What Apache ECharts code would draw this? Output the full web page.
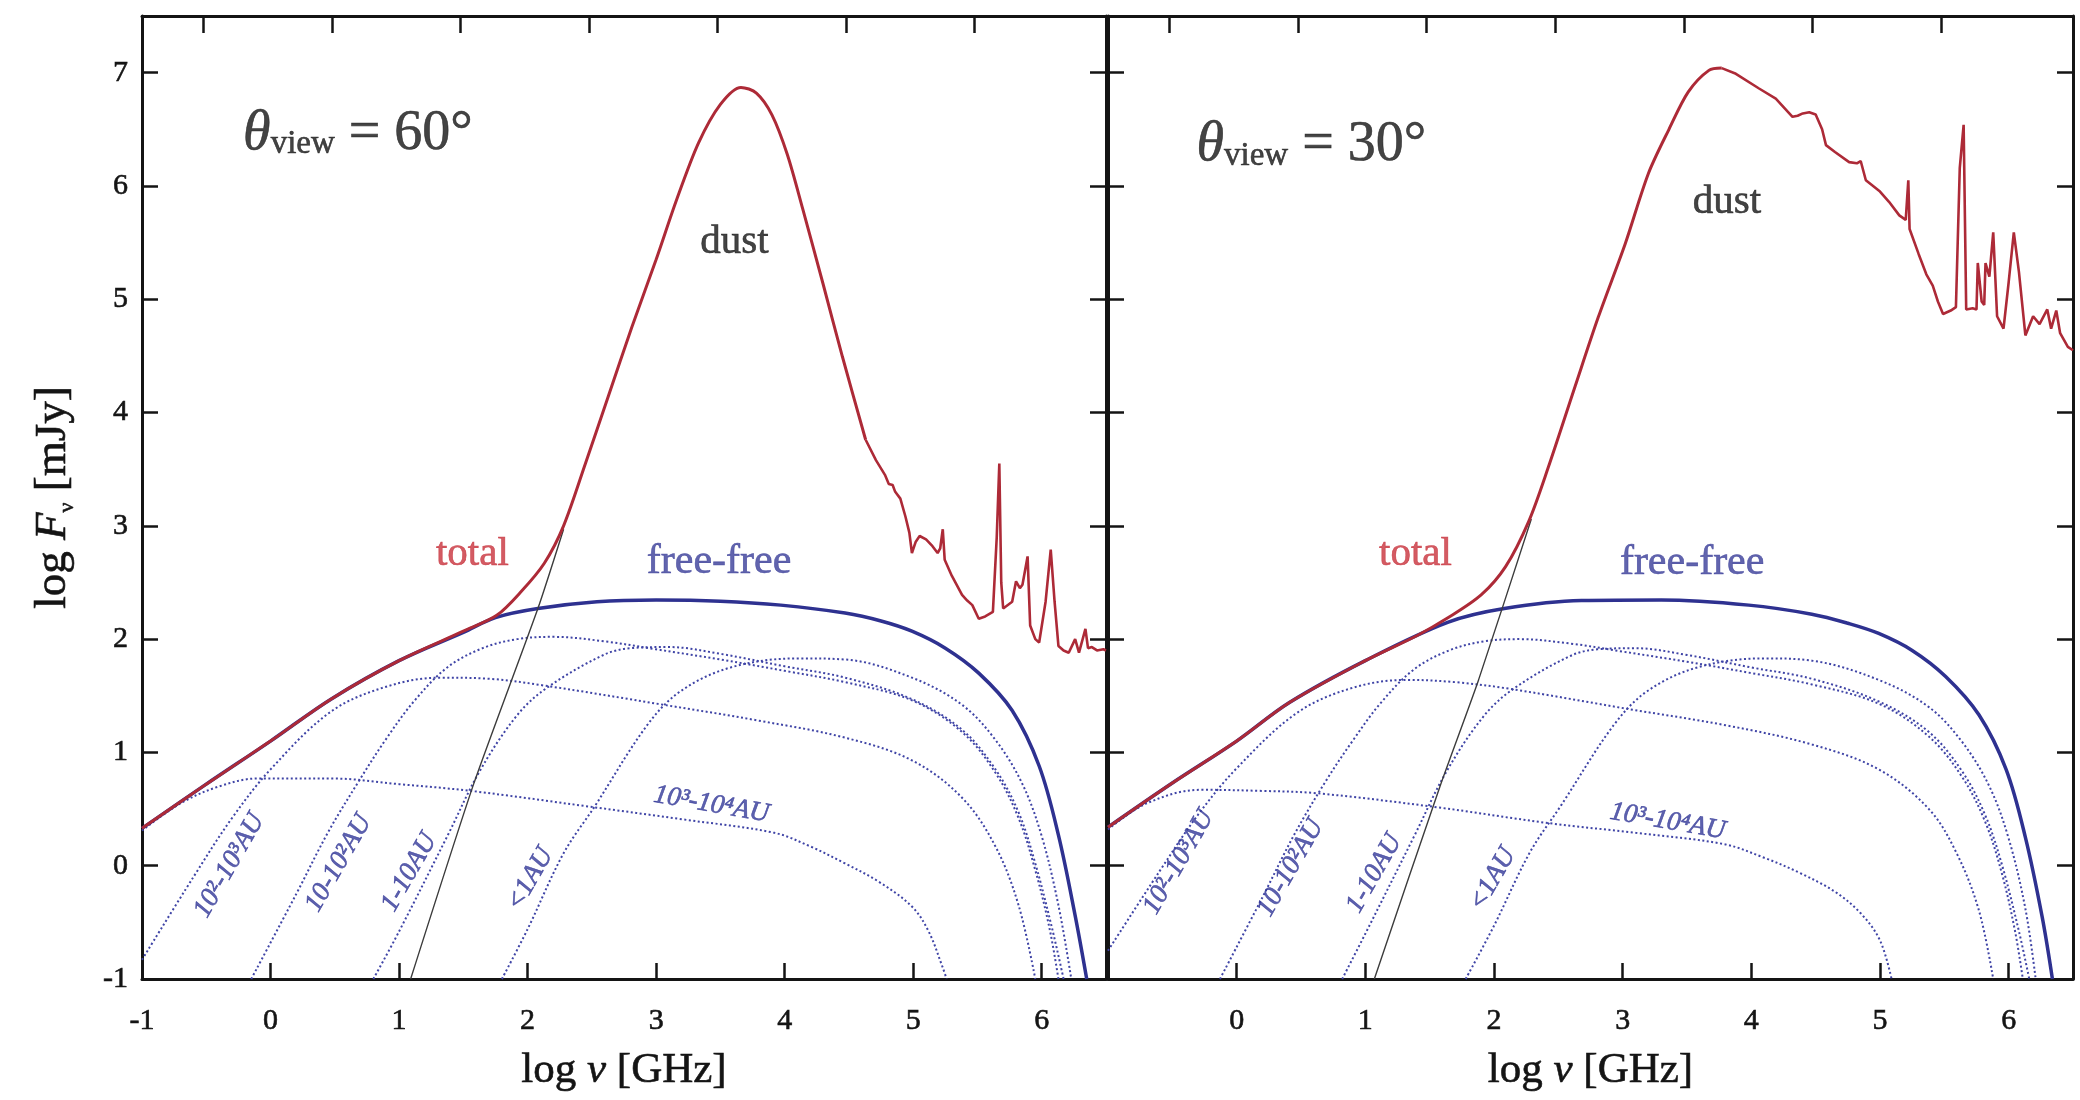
<!DOCTYPE html>
<html>
<head>
<meta charset="utf-8">
<script src="https://cdn.jsdelivr.net/npm/echarts@6/dist/echarts.min.js"></script>
<style>
  html, body { margin: 0; padding: 0; background: #ffffff; }
  #chart { width: 2080px; height: 1100px; }
</style>
</head>
<body>
<div id="chart"></div>
<script>
// ---------- axis ticks ----------
const xTicksLeft = [-1, 0, 1, 2, 3, 4, 5, 6];
const xTicksRight = [0, 1, 2, 3, 4, 5, 6];
const yTicks = [-1, 0, 1, 2, 3, 4, 5, 6, 7];
// top axis: integer log wavelength [um], placed on the log frequency scale
const logLambdaTicks = [6, 5, 4, 3, 2, 1, 0];
const LOG_C_GHZ_UM = Math.log10(2.998e5);
const topTicks = logLambdaTicks.map(l => +(LOG_C_GHZ_UM - l).toFixed(3));

// ---------- theta_view = 60 deg : [log nu (GHz), log F (mJy)] ----------
const freeFree60 = [[-1,0.33],[-0.5,0.72],[0,1.1],[0.47,1.47],[1.0,1.81],[1.5,2.06],[1.75,2.19],[2.08,2.27],[2.54,2.33],[3.0,2.345],[3.5,2.335],[3.97,2.30],[4.47,2.23],[4.75,2.16],[4.99,2.07],[5.25,1.92],[5.51,1.70],[5.77,1.37],[5.98,0.88],[6.13,0.27],[6.26,-0.44],[6.35,-1.0]];
const totalSmooth60 = [[-1,0.33],[-0.5,0.72],[0,1.1],[0.47,1.47],[1.0,1.81],[1.5,2.07],[1.76,2.21],[1.95,2.42],[2.13,2.67],[2.28,3.0],[2.45,3.55],[2.63,4.15],[2.81,4.75],[3.0,5.35],[3.16,5.88],[3.33,6.38],[3.5,6.72],[3.66,6.87],[3.78,6.82],[3.9,6.63],[4.02,6.28],[4.14,5.80],[4.30,5.13],[4.45,4.49],[4.63,3.76]];
const totalTail60 = [[4.63,3.76],[4.71,3.58],[4.78,3.45],[4.81,3.37],[4.84,3.36],[4.86,3.30],[4.90,3.24],[4.94,3.08],[4.97,2.94],[4.99,2.76],[5.02,2.86],[5.05,2.91],[5.10,2.88],[5.15,2.82],[5.19,2.76],[5.21,2.80],[5.23,2.97],[5.245,2.70],[5.30,2.56],[5.38,2.39],[5.42,2.34],[5.46,2.30],[5.51,2.18],[5.56,2.20],[5.62,2.24],[5.65,2.90],[5.67,3.55],[5.685,2.50],[5.70,2.27],[5.77,2.33],[5.80,2.51],[5.83,2.45],[5.85,2.48],[5.89,2.73],[5.91,2.12],[5.95,2.00],[5.98,1.97],[6.03,2.33],[6.07,2.79],[6.10,2.33],[6.13,1.94],[6.17,1.90],[6.21,1.88],[6.26,2.00],[6.29,1.88],[6.34,2.09],[6.36,1.92],[6.39,1.93],[6.43,1.90],[6.48,1.91],[6.5,1.90]];
const dustRise60 = [[1.09,-1],[1.58,0.72],[2.08,2.27],[2.28,2.97]];
const au1e3_60 = [[-1,0.31],[-0.7,0.55],[-0.4,0.7],[-0.1,0.77],[0.47,0.77],[1.0,0.72],[1.56,0.66],[2.49,0.52],[3.2,0.41],[3.92,0.29],[4.2,0.17],[4.47,0.02],[4.73,-0.14],[4.99,-0.36],[5.12,-0.58],[5.23,-0.90],[5.26,-1]];
const au1e2_60 = [[-1,-0.83],[-0.6,-0.1],[-0.3,0.42],[0,0.85],[0.47,1.36],[0.9,1.58],[1.32,1.66],[1.7,1.65],[2.13,1.59],[3.06,1.42],[3.8,1.28],[4.47,1.13],[4.99,0.93],[5.38,0.60],[5.64,0.17],[5.82,-0.35],[5.95,-1]];
const au1e1_60 = [[-0.15,-1],[0.2,-0.25],[0.45,0.3],[0.70,0.77],[0.9,1.12],[1.115,1.45],[1.375,1.75],[1.65,1.92],[1.92,2.0],[2.2,2.02],[2.6,1.98],[3.0,1.91],[3.5,1.82],[4.0,1.72],[4.47,1.62],[4.99,1.46],[5.38,1.18],[5.64,0.82],[5.82,0.42],[5.95,-0.04],[6.06,-0.55],[6.13,-1]];
const au1_60 = [[0.80,-1],[1.0,-0.58],[1.375,0.26],[1.63,0.84],[1.92,1.33],[2.15,1.57],[2.59,1.86],[2.8,1.92],[3.1,1.93],[3.5,1.87],[4.0,1.76],[4.47,1.66],[4.99,1.47],[5.38,1.20],[5.64,0.85],[5.82,0.47],[5.95,0.02],[6.08,-0.55],[6.17,-1]];
const auLt1_60 = [[1.80,-1],[2.0,-0.56],[2.28,0.11],[2.52,0.52],[2.93,1.24],[3.19,1.54],[3.58,1.75],[4.1,1.83],[4.47,1.82],[4.99,1.66],[5.38,1.42],[5.64,1.11],[5.85,0.72],[6.0,0.26],[6.13,-0.35],[6.23,-1]];

// ---------- theta_view = 30 deg ----------
const freeFree30 = [[-1,0.34],[-0.5,0.73],[0,1.1],[0.41,1.44],[1.0,1.81],[1.645,2.15],[2.08,2.27],[2.68,2.34],[3.3,2.345],[3.98,2.30],[4.47,2.22],[4.75,2.14],[4.99,2.05],[5.25,1.90],[5.51,1.67],[5.77,1.33],[5.98,0.85],[6.13,0.25],[6.26,-0.45],[6.34,-1.0]];
const totalSmooth30 = [[-1,0.34],[-0.5,0.73],[0,1.1],[0.41,1.44],[1.0,1.81],[1.4,2.03],[1.645,2.19],[1.90,2.39],[2.09,2.64],[2.27,3.04],[2.42,3.51],[2.63,4.23],[2.81,4.84],[3.02,5.49],[3.20,6.11],[3.36,6.50],[3.51,6.83],[3.67,7.02],[3.77,7.04]];
const totalTail30 = [[3.77,7.04],[3.88,6.99],[4.06,6.86],[4.19,6.77],[4.32,6.61],[4.36,6.62],[4.40,6.64],[4.45,6.65],[4.50,6.63],[4.55,6.50],[4.58,6.36],[4.65,6.30],[4.76,6.21],[4.82,6.20],[4.85,6.22],[4.89,6.05],[5.0,5.95],[5.07,5.86],[5.15,5.74],[5.20,5.70],[5.22,6.05],[5.23,5.62],[5.30,5.40],[5.36,5.22],[5.41,5.12],[5.45,4.98],[5.49,4.87],[5.55,4.90],[5.59,4.93],[5.62,6.16],[5.65,6.54],[5.67,4.91],[5.72,4.92],[5.75,4.91],[5.76,5.32],[5.79,4.98],[5.81,4.95],[5.82,5.32],[5.85,5.20],[5.88,5.59],[5.91,4.85],[5.96,4.74],[6.0,5.15],[6.04,5.59],[6.08,5.24],[6.13,4.68],[6.19,4.85],[6.24,4.78],[6.30,4.91],[6.33,4.74],[6.37,4.90],[6.40,4.70],[6.46,4.58],[6.5,4.55]];
const dustRise30 = [[1.07,-1],[1.58,0.70],[1.88,1.64],[2.29,3.06]];
const au1e3_30 = [[-1,0.32],[-0.7,0.55],[-0.28,0.67],[0.2,0.66],[0.62,0.64],[1.53,0.52],[2.43,0.375],[3.1,0.29],[3.79,0.19],[4.1,0.07],[4.37,-0.06],[4.65,-0.23],[4.85,-0.42],[5.0,-0.66],[5.09,-1]];
const au1e2_30 = [[-1,-0.75],[-0.6,-0.05],[-0.3,0.45],[0,0.86],[0.47,1.35],[0.9,1.57],[1.32,1.64],[1.7,1.62],[2.13,1.56],[3.06,1.38],[3.8,1.24],[4.47,1.07],[4.99,0.85],[5.38,0.50],[5.6,0.1],[5.77,-0.4],[5.88,-1]];
const au1e1_30 = [[-0.13,-1],[0.2,-0.28],[0.45,0.28],[0.70,0.76],[0.9,1.1],[1.115,1.43],[1.375,1.73],[1.65,1.9],[1.92,1.98],[2.2,2.0],[2.6,1.96],[3.0,1.89],[3.5,1.8],[4.0,1.7],[4.47,1.6],[4.99,1.43],[5.38,1.14],[5.64,0.78],[5.82,0.38],[5.95,-0.08],[6.05,-0.58],[6.11,-1]];
const au1_30 = [[0.82,-1],[1.0,-0.6],[1.375,0.25],[1.63,0.83],[1.92,1.32],[2.15,1.56],[2.59,1.85],[2.8,1.91],[3.1,1.92],[3.5,1.86],[4.0,1.75],[4.47,1.65],[4.99,1.45],[5.38,1.18],[5.64,0.83],[5.82,0.44],[5.95,0.0],[6.08,-0.58],[6.16,-1]];
const auLt1_30 = [[1.78,-1],[2.0,-0.53],[2.28,0.12],[2.52,0.53],[2.93,1.24],[3.19,1.54],[3.58,1.75],[4.1,1.83],[4.47,1.81],[4.99,1.64],[5.38,1.40],[5.64,1.09],[5.85,0.70],[6.0,0.24],[6.13,-0.38],[6.21,-1]];

// ---------- annotation anchors (data coordinates) ----------
const regionNames = ['10²-10³AU', '10-10²AU', '1-10AU', '<1AU'];
const regionPos60 = [[-0.32,0.0],[0.53,0.02],[1.08,-0.06],[2.02,-0.12]];
const regionPos30 = [[-0.45,0.03],[0.42,-0.02],[1.07,-0.07],[1.99,-0.12]];
const outerName = '10³-10⁴AU';
const outerPos60 = [3.43,0.54];
const outerPos30 = [3.35,0.39];
const viewAngles = [60, 30];
const viewPos = [[0.68,6.46],[0.58,6.36]];
const totalPos = [[1.57,2.75],[1.39,2.75]];
const ffPos = [[3.49,2.68],[3.54,2.67]];
const dustPos = [[3.61,5.50],[3.81,5.86]];

// ---------- styling ----------
const FONT = '"Liberation Serif", "Times New Roman", serif';
const INK = '#141414';
const RED = '#ad2a37';
const NAVY = '#2e3190';
const DOT = '#3f44a6';
const X_MIN = -1, X_MAX = 6.5, Y_MIN = -1, Y_MAX = 7.5;
// a hairline outline in the glyph colour gives the text a slightly heavier stroke
const heavy = c => ({ textBorderColor: c, textBorderWidth: 0.6 });

function frameAxis(extra) {
  return Object.assign({
    type: 'value',
    axisLine: { show: true, onZero: false, lineStyle: { color: INK, width: 3 } },
    splitLine: { show: false },
    axisTick: { show: true, inside: true, length: 16, lineStyle: { color: INK, width: 2.5 } },
    axisLabel: { show: false }
  }, extra);
}

const xAxes = [], yAxes = [];
[0, 1].forEach(g => {
  xAxes.push(frameAxis({
    gridIndex: g, position: 'bottom', min: X_MIN, max: X_MAX,
    axisTick: { show: true, inside: true, length: 16, lineStyle: { color: INK, width: 2.5 },
      customValues: g === 0 ? xTicksLeft : xTicksRight },
    axisLabel: Object.assign({ show: true, customValues: g === 0 ? xTicksLeft : xTicksRight,
      fontFamily: FONT, fontSize: 30, color: INK, margin: 27 }, heavy(INK)),
    name: 'log {i|ν} [GHz]', nameLocation: 'middle', nameGap: 70,
    nameTextStyle: Object.assign({ fontFamily: FONT, fontSize: 43, color: INK,
      rich: { i: Object.assign({ fontFamily: FONT, fontSize: 43, fontStyle: 'italic', color: INK }, heavy(INK)) } }, heavy(INK))
  }));
  xAxes.push(frameAxis({
    gridIndex: g, position: 'top', min: X_MIN, max: X_MAX,
    axisTick: { show: true, inside: true, length: 17, lineStyle: { color: INK, width: 2.5 },
      customValues: topTicks }
  }));
  yAxes.push(frameAxis(Object.assign({
    gridIndex: g, position: 'left', min: Y_MIN, max: Y_MAX,
    axisTick: { show: true, inside: true, length: 16, lineStyle: { color: INK, width: 2.5 },
      customValues: yTicks },
    axisLabel: Object.assign({ show: g === 0, customValues: yTicks, fontFamily: FONT, fontSize: 30,
      color: INK, margin: 14 }, heavy(INK))
  }, g === 0 ? {
    name: 'log {i|F}{s|ν} [mJy]', nameLocation: 'middle', nameGap: 64,
    nameTextStyle: Object.assign({ fontFamily: FONT, fontSize: 45, color: INK,
      rich: {
        i: Object.assign({ fontFamily: FONT, fontSize: 45, fontStyle: 'italic', color: INK }, heavy(INK)),
        s: { fontFamily: FONT, fontSize: 22, color: INK, padding: [28, 0, 0, 0] }
      } }, heavy(INK))
  } : {})));
  yAxes.push(frameAxis({
    gridIndex: g, position: 'right', min: Y_MIN, max: Y_MAX,
    axisTick: { show: true, inside: true, length: 16, lineStyle: { color: INK, width: 2.5 },
      customValues: yTicks }
  }));
});

function line(g, data, style, opts) {
  return Object.assign({
    type: 'line', xAxisIndex: g * 2, yAxisIndex: g * 2, data: data,
    showSymbol: false, symbol: 'none', silent: true, clip: true,
    lineStyle: style, animation: false
  }, opts || {});
}

function textMarks(g, items) {
  return {
    type: 'scatter', xAxisIndex: g * 2, yAxisIndex: g * 2,
    symbolSize: 1, itemStyle: { color: 'transparent' }, silent: true, animation: false,
    z: 10, clip: false,
    data: items.map(it => ({
      value: it.pos,
      label: Object.assign({ show: true, position: 'inside', align: 'center',
        verticalAlign: 'middle', fontFamily: FONT }, it.label)
    }))
  };
}

const AU_COLOR = '#353a98';
const auLabelStyle = Object.assign({ fontSize: 27, fontStyle: 'italic', color: AU_COLOR }, heavy(AU_COLOR));

function panelSeries(g, d) {
  const dotted = { color: DOT, width: 2, type: [2, 2.5] };
  const list = [];
  d.subs.forEach(s => list.push(line(g, s, dotted, { smooth: 0.35, z: 2 })));
  list.push(line(g, d.ff, { color: NAVY, width: 3.5 }, { smooth: 0.35, z: 3 }));
  list.push(line(g, d.dust, { color: '#3c3c3c', width: 1.4 }, { smooth: 0.2, z: 3 }));
  list.push(line(g, d.totalSmooth, { color: RED, width: 3 }, { smooth: 0.3, z: 4 }));
  list.push(line(g, d.totalTail, { color: RED, width: 2.6 }, { smooth: false, z: 4 }));

  const items = [];
  regionNames.forEach((n, i) => items.push({ pos: d.regionPos[i],
    label: Object.assign({ formatter: n, rotate: 60 }, auLabelStyle) }));
  items.push({ pos: d.outerPos, label: Object.assign({ formatter: outerName, rotate: -10 }, auLabelStyle) });
  items.push({ pos: viewPos[g], label: {
    formatter: '{th|θ}{sb|view}{eq| = ' + viewAngles[g] + '°}',
    rich: {
      th: Object.assign({ fontFamily: FONT, fontSize: 56, fontStyle: 'italic', color: INK }, heavy(INK)),
      sb: Object.assign({ fontFamily: FONT, fontSize: 33, color: INK, padding: [22, 0, 0, 0] }, heavy(INK)),
      eq: Object.assign({ fontFamily: FONT, fontSize: 56, color: INK }, heavy(INK))
    } } });
  items.push({ pos: totalPos[g], label: Object.assign({ formatter: 'total', fontSize: 41, color: '#c8323c' }, heavy('#c8323c')) });
  items.push({ pos: ffPos[g], label: Object.assign({ formatter: 'free-free', fontSize: 42, color: '#393d98' }, heavy('#393d98')) });
  items.push({ pos: dustPos[g], label: Object.assign({ formatter: 'dust', fontSize: 41, color: INK }, heavy(INK)) });
  list.push(textMarks(g, items));
  return list;
}

const series = [].concat(
  panelSeries(0, {
    subs: [au1e3_60, au1e2_60, au1e1_60, au1_60, auLt1_60],
    ff: freeFree60, dust: dustRise60, totalSmooth: totalSmooth60, totalTail: totalTail60,
    regionPos: regionPos60, outerPos: outerPos60
  }),
  panelSeries(1, {
    subs: [au1e3_30, au1e2_30, au1e1_30, au1_30, auLt1_30],
    ff: freeFree30, dust: dustRise30, totalSmooth: totalSmooth30, totalTail: totalTail30,
    regionPos: regionPos30, outerPos: outerPos30
  })
);

const chart = echarts.init(document.getElementById('chart'), null, { renderer: 'canvas' });
chart.setOption({
  backgroundColor: '#ffffff',
  animation: false,
  grid: [
    { left: 142, top: 16, width: 964, height: 963 },
    { left: 1108, top: 16, width: 965, height: 963 }
  ],
  xAxis: xAxes,
  yAxis: yAxes,
  series: series
});
</script>
</body>
</html>
